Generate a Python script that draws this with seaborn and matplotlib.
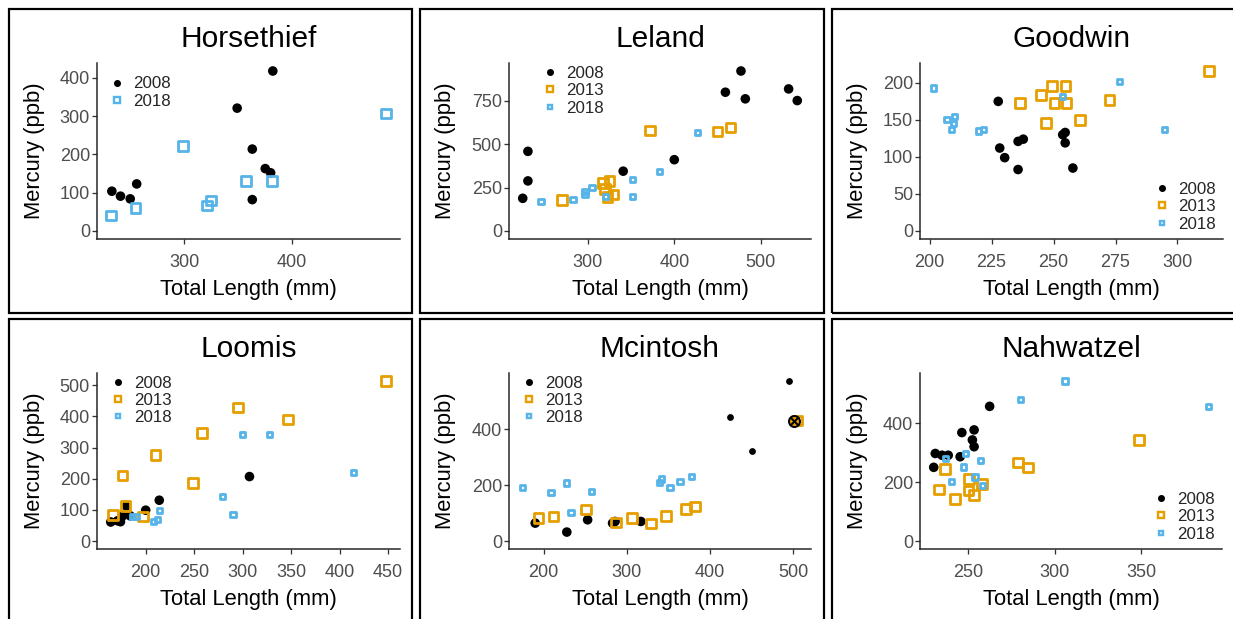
import matplotlib
matplotlib.use("Agg")
import matplotlib.pyplot as plt
from matplotlib.lines import Line2D
from matplotlib.patches import Rectangle
import seaborn as sns

# ---------------- data ----------------
years = ["2008", "2013", "2018"]

ht_2008_x = [233, 241, 250, 256, 349, 363, 363, 375, 380, 382]
ht_2008_y = [104, 91, 84, 123, 321, 214, 82, 163, 152, 418]
ht_2018_x = [232, 255, 299, 321, 325, 357, 381, 487]
ht_2018_y = [40, 60, 222, 67, 80, 130, 130, 307]

le_2008_x = [225, 231, 231, 341, 400, 459, 477, 482, 532, 542]
le_2008_y = [188, 288, 458, 344, 410, 798, 920, 760, 817, 750]
le_2013_x = [270, 318, 325, 320, 323, 330, 372, 450, 465]
le_2013_y = [179, 275, 288, 240, 195, 210, 579, 573, 596]
le_2018_x = [246, 283, 297, 297, 305, 321, 352, 352, 383, 427]
le_2018_y = [169, 179, 227, 208, 250, 198, 294, 198, 344, 567]

gw_2008_x = [227.7, 228.3, 230.3, 235.7, 235.7, 237.8, 253.7, 254.7, 254.7, 257.8]
gw_2008_y = [175, 112, 99, 83, 121, 124, 130, 133, 119, 85]
gw_2013_x = [236.4, 245, 249.3, 254.8, 250.4, 255.3, 247, 260.7, 272.6, 312.8]
gw_2013_y = [173, 184, 196, 196, 173, 173, 146, 150, 177, 216]
gw_2018_x = [201.7, 207, 210, 209, 209.5, 219.7, 221.7, 253.5, 276.7, 294.8]
gw_2018_y = [193, 151, 155, 137, 145, 135, 137, 182, 202, 137]

lo_2008_x = [164, 171, 174, 180, 184, 200, 214, 307, 176]
lo_2008_y = [61, 65, 62, 113, 81, 99, 131, 207, 80]
lo_2013_x = [166, 176, 179, 197, 210, 249, 258, 295, 347, 448]
lo_2013_y = [84, 211, 113, 79, 277, 186, 347, 429, 390, 514]
lo_2018_x = [186, 190, 208, 212, 214, 279, 290, 300, 328, 414]
lo_2018_y = [79, 79, 62, 68, 99, 143, 84, 342, 342, 219]

mc_2008_x = [190, 228, 253, 283, 286, 317]
mc_2008_y = [64, 32, 76, 64, 70, 70]
mc_2013_x = [194, 212, 251, 287, 306, 329, 347, 371, 382, 505]
mc_2013_y = [82, 88, 113, 66, 82, 62, 90, 115, 124, 432]
mc_2018_x = [175, 209, 228, 233, 258, 339, 342, 352, 364, 378]
mc_2018_y = [192, 174, 208, 102, 178, 210, 222, 192, 214, 232]
mc_odd_x = [424, 451, 495]
mc_odd_y = [444, 324, 573]
mc_flag_x = [501]
mc_flag_y = [430]

nw_2008_x = [229.9, 230.8, 234.7, 238.3, 246.2, 245.2, 253.3, 252.3, 253.3, 262.3]
nw_2008_y = [250, 297, 291, 291, 368, 286, 377, 343, 320, 457]
nw_2013_x = [232.8, 236.6, 242.3, 250, 250.4, 253.3, 258, 278.7, 284.5, 349]
nw_2013_y = [175, 245, 143, 171, 211, 157, 193, 266, 249, 343]
nw_2018_x = [236.6, 240.4, 247, 248.5, 257, 253.8, 258, 280, 306, 389]
nw_2018_y = [280, 203, 251, 297, 272, 217, 189, 480, 543, 457]

ht_xticks = [300, 400]; ht_yticks = [0, 100, 200, 300, 400]
le_xticks = [300, 400, 500]; le_yticks = [0, 250, 500, 750]
gw_xticks = [200, 225, 250, 275, 300]; gw_yticks = [0, 50, 100, 150, 200]
lo_xticks = [200, 250, 300, 350, 400, 450]; lo_yticks = [0, 100, 200, 300, 400, 500]
mc_xticks = [200, 300, 400, 500]; mc_yticks = [0, 200, 400]
nw_xticks = [250, 300, 350]; nw_yticks = [0, 200, 400]

# ---------------- style ----------------
sns.set_style("white")
plt.rcParams["font.family"] = ["Liberation Sans", "DejaVu Sans"]

W, H = 1233, 619
fig = plt.figure(figsize=(W / 100, H / 100), dpi=100)
PX = 72 / 100.0  # points per pixel

BLACK, ORANGE, BLUE = "#000000", "#E69F00", "#56B4E9"
TICKCOL = "#4D4D4D"


def fx(x):
    return x / W


def fy(y):
    return 1 - y / H


# panel borders
for (l, t, r, b) in [(9, 9, 412, 313), (420, 9, 824, 313), (832, 9, 1240, 313),
                     (9, 319, 412, 630), (420, 319, 824, 630), (832, 319, 1240, 630)]:
    fig.patches.append(Rectangle((fx(l), fy(b)), fx(r - l), (b - t) / H,
                                 transform=fig.transFigure, fill=False,
                                 edgecolor="black", linewidth=2 * PX * 1.1))

DOT = dict(marker="o", s=(9.6 * PX) ** 2, linewidth=0)
BIGSQ = dict(marker="s", s=(9.6 * PX) ** 2, linewidth=2.8 * PX)
SMSQ = dict(marker="s", s=(5.2 * PX) ** 2, linewidth=2.8 * PX)

panels = [
    dict(title="Horsethief", rect=(97, 63, 400, 239),
         series=[("2008", ht_2008_x, ht_2008_y, BLACK, DOT),
                 ("2018", ht_2018_x, ht_2018_y, BLUE, BIGSQ)],
         xticks=ht_xticks, yticks=ht_yticks, leg=(110, 76.5), big=True),
    dict(title="Leland", rect=(509, 63, 811, 239),
         series=[("2008", le_2008_x, le_2008_y, BLACK, DOT),
                 ("2013", le_2013_x, le_2013_y, ORANGE, BIGSQ),
                 ("2018", le_2018_x, le_2018_y, BLUE, SMSQ)],
         xticks=le_xticks, yticks=le_yticks, leg=(543, 66), big=False),
    dict(title="Goodwin", rect=(920, 63, 1223, 239),
         series=[("2008", gw_2008_x, gw_2008_y, BLACK, DOT),
                 ("2013", gw_2013_x, gw_2013_y, ORANGE, BIGSQ),
                 ("2018", gw_2018_x, gw_2018_y, BLUE, SMSQ)],
         xticks=gw_xticks, yticks=gw_yticks, leg=(1155, 182), big=False),
    dict(title="Loomis", rect=(97, 373, 400, 549),
         series=[("2008", lo_2008_x, lo_2008_y, BLACK, DOT),
                 ("2013", lo_2013_x, lo_2013_y, ORANGE, BIGSQ),
                 ("2018", lo_2018_x, lo_2018_y, BLUE, SMSQ)],
         xticks=lo_xticks, yticks=lo_yticks, leg=(111, 375.5), big=False),
    dict(title="Mcintosh", rect=(509, 373, 811, 549),
         series=[("2008", mc_2008_x, mc_2008_y, BLACK, DOT),
                 ("2013", mc_2013_x, mc_2013_y, ORANGE, BIGSQ),
                 ("2018", mc_2018_x, mc_2018_y, BLUE, SMSQ)],
         xticks=mc_xticks, yticks=mc_yticks, leg=(522, 375.5), big=False),
    dict(title="Nahwatzel", rect=(920, 373, 1222, 549),
         series=[("2008", nw_2008_x, nw_2008_y, BLACK, DOT),
                 ("2013", nw_2013_x, nw_2013_y, ORANGE, BIGSQ),
                 ("2018", nw_2018_x, nw_2018_y, BLUE, SMSQ)],
         xticks=nw_xticks, yticks=nw_yticks, leg=(1154, 492), big=False),
]

for p in panels:
    l, t, r, b = p["rect"]
    ax = fig.add_axes([fx(l), fy(b), (r - l) / W, (b - t) / H])
    allx, ally = [], []
    for name, xs, ys, col, sty in p["series"]:
        allx += list(xs); ally += list(ys)
        if sty["marker"] == "o":
            sns.scatterplot(x=xs, y=ys, color=col, edgecolor="none", ax=ax, **sty)
        else:
            sns.scatterplot(x=xs, y=ys, color=col, facecolor="none", edgecolor=col, ax=ax, **sty)
    if p["title"] == "Mcintosh":
        allx += mc_odd_x + mc_flag_x; ally += mc_odd_y + mc_flag_y
        sns.scatterplot(x=mc_odd_x, y=mc_odd_y, color=BLACK, marker="o", s=(8 * PX) ** 2,
                        edgecolor="white", linewidth=1.2 * PX, ax=ax, zorder=5)
        sns.scatterplot(x=mc_flag_x, y=mc_flag_y, color=ORANGE, marker="o", s=(11 * PX) ** 2,
                        edgecolor=BLACK, linewidth=2 * PX, ax=ax, zorder=6)
        sns.scatterplot(x=mc_flag_x, y=mc_flag_y, color=BLACK, marker="x", s=(8 * PX) ** 2,
                        linewidth=2 * PX, ax=ax, zorder=7)
    x0, x1 = min(allx), max(allx)
    rx = x1 - x0
    ymax = max(ally)
    ax.set_xlim(x0 - 0.05 * rx, x1 + 0.05 * rx)
    ax.set_ylim(-0.05 * ymax, ymax * 1.05)
    ax.set_xticks(p["xticks"])
    ax.set_yticks(p["yticks"])
    for s in ["top", "right"]:
        ax.spines[s].set_visible(False)
    for s in ["left", "bottom"]:
        ax.spines[s].set_color("#222222")
        ax.spines[s].set_linewidth(1.5 * PX)
    ax.tick_params(axis="both", which="major", length=5 * PX, width=1.3 * PX,
                   color="#333333", labelcolor=TICKCOL, labelsize=13,
                   bottom=True, left=True)
    ax.tick_params(axis="x", pad=10 * PX)
    ax.tick_params(axis="y", pad=2 * PX)
    ax.set_title(p["title"], fontsize=21.5, color="black", pad=16 * PX)
    ax.set_xlabel("Total Length (mm)", fontsize=15.8, color="black")
    ax.set_ylabel("Mercury (ppb)", fontsize=15.8, color="black")
    ax.xaxis.label.set_va("center")
    ax.yaxis.label.set_va("center")
    ax.xaxis.set_label_coords(0.5, -(290 - 239) / 176.0)
    ax.yaxis.set_label_coords(-63.0 / (r - l), 0.5)
    ax.set_facecolor("white")
    ax.grid(False)

    # legend
    handles = []
    labels = []
    for name, xs, ys, col, sty in p["series"]:
        if sty["marker"] == "o":
            h = Line2D([], [], linestyle="none", marker="o", markersize=7 * PX,
                       markerfacecolor=col, markeredgecolor=col, markeredgewidth=0)
        elif sty is BIGSQ or p["big"]:
            h = Line2D([], [], linestyle="none", marker="s", markersize=5.5 * PX,
                       markerfacecolor="none", markeredgecolor=col, markeredgewidth=2.4 * PX)
        else:
            h = Line2D([], [], linestyle="none", marker="s", markersize=4.0 * PX,
                       markerfacecolor="none", markeredgecolor=col, markeredgewidth=2.4 * PX)
        handles.append(h)
        labels.append(name)
    lx, ly = p["leg"]
    ax.legend(handles, labels, loc="upper left", bbox_to_anchor=(fx(lx), fy(ly)),
              bbox_transform=fig.transFigure, frameon=False, fontsize=12.2,
              handlelength=0.8, handletextpad=0.55, labelspacing=0.14,
              borderpad=0, borderaxespad=0, markerscale=1.0)

fig.savefig("out.png", dpi=100, facecolor="white")
